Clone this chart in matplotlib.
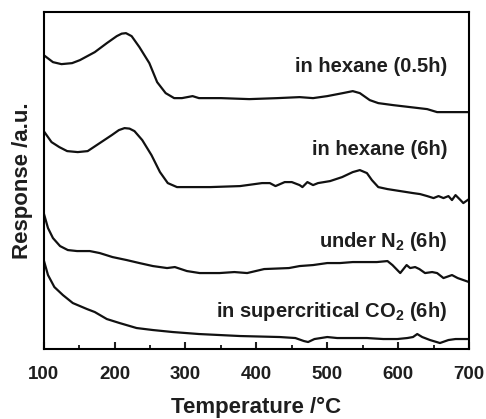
import matplotlib.pyplot as plt
from matplotlib.ticker import MultipleLocator

plt.rcParams['font.family'] = ['Liberation Sans', 'DejaVu Sans']
plt.rcParams['mathtext.fontset'] = 'custom'
plt.rcParams['mathtext.bf'] = 'Liberation Sans:bold'
plt.rcParams['mathtext.rm'] = 'Liberation Sans:bold'

# temperatures (degC) and responses (arbitrary units)
t_hex05 = [100, 113, 125, 140, 151, 172, 189, 203, 210, 216, 224, 235, 249,
           260, 272, 284, 295, 310, 319, 350, 390, 430, 461, 480, 500, 522,
           536, 546, 560, 572, 593, 617, 641, 655, 700]
r_hex05 = [294, 287, 285, 286, 289, 297, 306, 313, 315.5, 316, 313, 302, 286,
           267, 256, 251, 251, 253, 251, 251, 250, 251, 252, 251, 253, 256,
           258, 256, 249, 246, 244, 242, 240, 237, 237]

t_hex6 = [100, 111, 122, 133, 148, 162, 179, 196, 206, 214, 221, 228, 239,
          252, 264, 275, 288, 300, 335, 377, 408, 419, 427, 440, 450, 461,
          465, 472, 480, 487, 504, 521, 536, 546, 556, 563, 572, 585, 603,
          621, 631, 641, 650, 657, 664, 671, 676, 681, 688, 692, 700]
r_hex6 = [218, 207, 202, 198, 197, 198, 206, 214, 219, 221, 220.5, 218, 209,
          194, 177, 166, 162, 162, 162, 163, 166, 166, 163, 167, 167, 164,
          162, 167, 164, 166, 168, 172, 177, 179, 176, 169, 162, 160, 158,
          156, 155, 153, 151, 153, 151, 153, 149, 154, 149, 146, 150]

t_n2 = [100, 106, 113, 123, 134, 147, 165, 179, 197, 217, 235, 254, 274,
        285, 302, 320, 348, 369, 387, 411, 446, 461, 480, 500, 518, 536,
        556, 570, 585, 592, 603, 612, 617, 624, 630, 638, 648, 655, 664,
        676, 684, 700]
r_n2 = [136, 121, 111, 103, 99, 98, 98, 96, 92, 89, 86, 83, 81,
        82, 78, 76, 76, 77, 76, 80, 81, 83, 84, 86, 86, 87,
        87, 87, 88, 84, 76, 84, 81, 82, 80, 76, 77, 76, 71,
        74, 71, 67]

t_co2 = [100, 106, 115, 127, 141, 161, 172, 189, 207, 231, 254, 282, 319,
         377, 433, 455, 467, 473, 482, 500, 514, 528, 556, 579, 599, 613,
         621, 627, 634, 645, 659, 671, 681, 700]
r_co2 = [89, 74, 62, 54, 46, 40, 37, 30, 26, 21, 19, 17, 15,
         13, 12, 11, 8, 7, 10, 12, 11, 11, 11, 10, 10, 11,
         12, 15, 12, 9, 6, 9, 10, 10]

labels = ['in hexane (0.5h)', 'in hexane (6h)', r'under N$_\mathbf{2}$ (6h)',
          r'in supercritical CO$_\mathbf{2}$ (6h)']
label_y = [283, 200, 108, 38]

fig, ax = plt.subplots(figsize=(4.86, 4.19), dpi=100)
fig.subplots_adjust(left=0.09, right=0.965, top=0.971, bottom=0.167)

for t, r in [(t_hex05, r_hex05), (t_hex6, r_hex6), (t_n2, r_n2), (t_co2, r_co2)]:
    ax.plot(t, r, color='#111111', lw=1.6, solid_joinstyle='round')

for lab, ly in zip(labels, label_y):
    ax.text(669, ly, lab, ha='right', va='center', fontsize=14.5,
            fontweight='bold', color='#1e1e1e')

ax.set_xlim(100, 700)
ax.set_ylim(0, 337)
ax.xaxis.set_major_locator(MultipleLocator(100))
ax.xaxis.set_minor_locator(MultipleLocator(50))
ax.tick_params(axis='x', which='major', direction='in', length=5, width=1.5,
               labelsize=13.5, pad=12, colors='#1e1e1e')
ax.tick_params(axis='x', which='minor', direction='in', length=3, width=1.2)
for lab in ax.get_xticklabels():
    lab.set_fontweight('bold')
ax.set_yticks([])
for s in ax.spines.values():
    s.set_linewidth(1.5)

ax.set_xlabel('Temperature /°C', fontsize=16, fontweight='bold', labelpad=10,
              color='#1e1e1e')
ax.set_ylabel('Response /a.u.', fontsize=16, fontweight='bold', labelpad=8,
              color='#1e1e1e')

fig.savefig('out.png')
